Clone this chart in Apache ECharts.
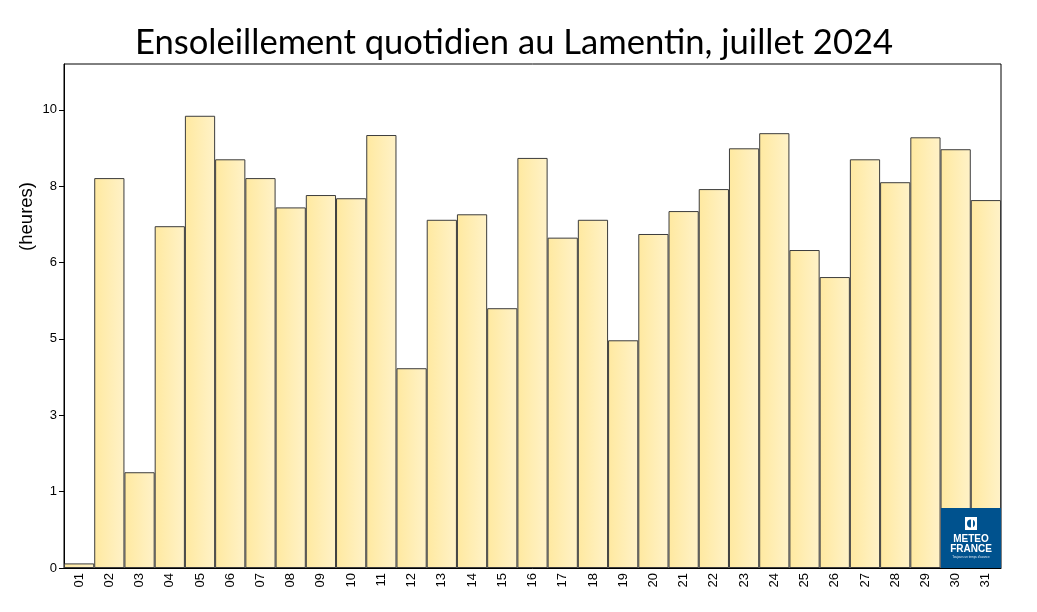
<!DOCTYPE html>
<html><head><meta charset="utf-8">
<script src="https://cdn.jsdelivr.net/npm/echarts@6/dist/echarts.min.js"></script>
<style>html,body{margin:0;padding:0;background:#fff}#c{width:1037px;height:612px}</style>
</head><body><div id="c"></div>
<script>
const days = ['01','02','03','04','05','06','07','08','09','10','11','12','13','14','15','16','17','18','19','20','21','22','23','24','25','26','27','28','29','30','31'];
const sunshineHours = [0.10,8.51,2.09,7.46,9.87,8.92,8.51,7.87,8.14,8.07,9.45,4.36,7.60,7.72,5.67,8.95,7.21,7.60,4.97,7.29,7.79,8.27,9.16,9.49,6.94,6.35,8.92,8.42,9.40,9.14,8.03];
const yTickValues = [0, 10/6, 20/6, 5, 40/6, 50/6, 10];
const yTickLabels = ['0','1','3','5','6','8','10'];

const chart = echarts.init(document.getElementById('c'), null, {renderer:'canvas'});
chart.setOption({
  animation:false,
  backgroundColor:'#fff',
  title:{text:'Ensoleillement quotidien au Lamentin, juillet 2024', left:130, top:20,
    textStyle:{fontFamily:'Lato', fontSize:34.6, fontWeight:'normal', color:'#000'}},
  grid:{left:64, right:36, top:64, bottom:44, show:true, borderColor:'#000', borderWidth:1, backgroundColor:'transparent'},
  xAxis:{type:'category', data:days,
    axisLine:{lineStyle:{color:'#000'}}, axisTick:{show:false},
    axisLabel:{rotate:90, fontFamily:'Liberation Sans', fontSize:13, color:'#000', margin:5, interval:0}},
  yAxis:{type:'value', min:0, max:11,
    axisLine:{show:true, lineStyle:{color:'#000'}},
    axisTick:{show:true, length:5, lineStyle:{color:'#000'}, customValues:yTickValues},
    splitLine:{show:false},
    axisLabel:{customValues:yTickValues, fontFamily:'Liberation Sans', fontSize:13, color:'#000', margin:7,
      formatter:function(v){ for(let i=0;i<yTickValues.length;i++){ if(Math.abs(yTickValues[i]-v)<1e-6) return yTickLabels[i]; } return ''; }}},
  series:[{type:'bar', data:sunshineHours, barCategoryGap:'0%',
    itemStyle:{borderColor:'#3c3c3c', borderWidth:1,
      color:new echarts.graphic.LinearGradient(0,0,1,0,[{offset:0,color:'#FFE9A0'},{offset:1,color:'#FFF2C8'}])}}],
  graphic:[
    {type:'text', left:17, top:182, z:100, rotation:Math.PI/2, style:{text:'(heures)', font:'18.5px "Liberation Sans"', fill:'#000'}},
    {type:'group', left:941, top:508, z:100, children:[
      {type:'rect', z:100, shape:{x:0,y:0,width:60,height:60}, style:{fill:'#00528E'}},
      {type:'rect', z:101, shape:{x:24,y:9,width:12,height:13}, style:{fill:'#fff'}},
      {type:'circle', z:102, shape:{cx:30,cy:15.5,r:4}, style:{fill:'#00528E'}},
      {type:'rect', z:103, shape:{x:30,y:10,width:2,height:11}, style:{fill:'#fff'}},
      {type:'text', z:103, x:30, y:26, style:{text:'METEO', font:'bold 10px "Liberation Sans"', fill:'#fff', align:'center'}},
      {type:'text', z:103, x:30, y:36, style:{text:'FRANCE', font:'bold 10px "Liberation Sans"', fill:'#fff', align:'center'}},
      {type:'text', z:103, x:30, y:48, style:{text:'Toujours un temps d\u2019avance', font:'3px "Liberation Sans"', fill:'#dfe8f2', align:'center'}}
    ]}
  ]
});
</script></body></html>
